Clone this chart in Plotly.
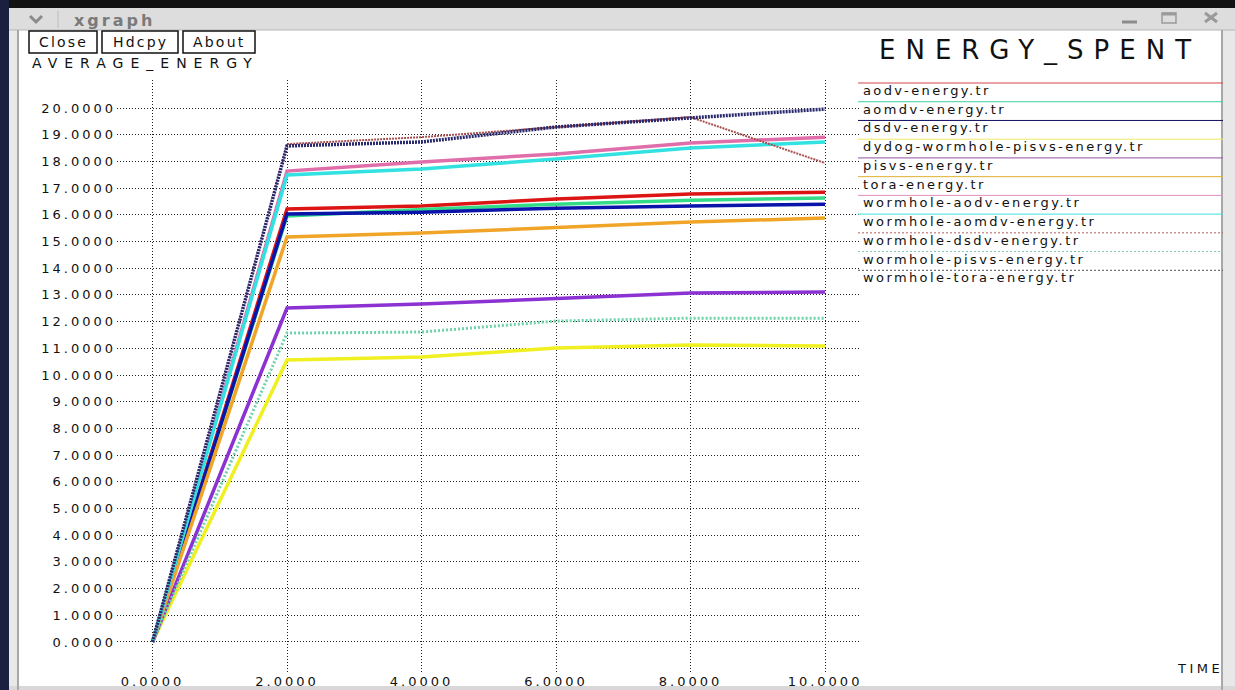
import plotly.graph_objects as go

# ---------------- data ----------------
times = [0, 2, 4, 6, 8, 10]

aodv = [0, 16.22, 16.33, 16.59, 16.78, 16.85]
aomdv = [0, 15.96, 16.20, 16.40, 16.55, 16.63]
dsdv = [0, 16.03, 16.10, 16.25, 16.33, 16.40]
dydog_wormhole_pisvs = [0, 10.56, 10.67, 11.01, 11.12, 11.09]
pisvs = [0, 12.51, 12.66, 12.88, 13.07, 13.11]
tora = [0, 15.17, 15.32, 15.51, 15.73, 15.88]
wormhole_aodv = [0, 17.64, 17.98, 18.28, 18.69, 18.91]
wormhole_aomdv = [0, 17.49, 17.72, 18.09, 18.50, 18.73]
wormhole_dsdv = [0, 18.65, 18.91, 19.29, 19.66, 17.94]
wormhole_pisvs = [0, 11.57, 11.61, 12.02, 12.13, 12.13]
wormhole_tora = [0, 18.58, 18.73, 19.29, 19.63, 19.96]

series_names = [
    "aodv-energy.tr", "aomdv-energy.tr", "dsdv-energy.tr",
    "dydog-wormhole-pisvs-energy.tr", "pisvs-energy.tr", "tora-energy.tr",
    "wormhole-aodv-energy.tr", "wormhole-aomdv-energy.tr",
    "wormhole-dsdv-energy.tr", "wormhole-pisvs-energy.tr",
    "wormhole-tora-energy.tr",
]
series_values = [
    aodv, aomdv, dsdv, dydog_wormhole_pisvs, pisvs, tora,
    wormhole_aodv, wormhole_aomdv, wormhole_dsdv, wormhole_pisvs, wormhole_tora,
]

x_tick_vals = [0, 2, 4, 6, 8, 10]
x_tick_text = ["0.0000", "2.0000", "4.0000", "6.0000", "8.0000", "10.0000"]
y_tick_vals = [0, 1, 2, 3, 4, 5, 6, 7, 8, 9, 10, 11, 12, 13, 14, 15, 16, 17, 18, 19, 20]
y_tick_text = ["0.0000", "1.0000", "2.0000", "3.0000", "4.0000", "5.0000", "6.0000",
               "7.0000", "8.0000", "9.0000", "10.0000", "11.0000", "12.0000",
               "13.0000", "14.0000", "15.0000", "16.0000", "17.0000", "18.0000",
               "19.0000", "20.0000"]

chart_title = "ENERGY_SPENT"
y_title = "AVERAGE_ENERGY"
x_title = "TIME"
window_title = "xgraph"
buttons = ["Close", "Hdcpy", "About"]

# ---------------- styles ----------------
colors = ["#dc1414", "#33dd88", "#0a14aa", "#f0f020", "#8c32d2", "#f0a528",
          "#e06eaa", "#32e1e1", "#a85050", "#6ed2aa", "#28286e"]
legend_colors = ["#d04848", "#40d0a0", "#101060", "#f0e860", "#9050a0", "#e0b030",
                 "#e090c0", "#40e0e0", "#b06060", "#80c8b0", "#505050"]
dashes = ["solid"] * 8 + ["2px,1px", "2px,2px", "2px,1px"]
widths = [3.5, 3.5, 3.5, 3.5, 3.5, 3.5, 3.5, 3.5, 2.0, 3.0, 3.5]

FONT = "DejaVu Sans"
W, H = 1235, 690
L, R, T, B = 117, 860, 80, 672
TICK_LS = 3.0


def X(p):
    return (p - L) / (R - L)


def Y(p):
    return (B - p) / (B - T)


def sp(text, ls):
    return f'<span style="letter-spacing:{ls}px">{text}</span>'


fig = go.Figure()
for name, vals, col, dash, w in zip(series_names, series_values, colors, dashes, widths):
    fig.add_trace(go.Scatter(
        x=times, y=vals, mode="lines", name=name, showlegend=False,
        line=dict(color=col, width=w, dash=dash), hoverinfo="skip",
    ))

shapes = []


def rect(x0, x1, y0, y1, fill, line=None, lw=0, layer="below"):
    shapes.append(dict(type="rect", xref="paper", yref="paper",
                       x0=X(x0), x1=X(x1), y0=Y(y0), y1=Y(y1),
                       fillcolor=fill, line=dict(color=line or fill, width=lw),
                       layer=layer))


def seg(x0, y0, x1, y1, color, width=1, dash="solid", layer="above"):
    shapes.append(dict(type="line", xref="paper", yref="paper",
                       x0=X(x0), x1=X(x1), y0=Y(y0), y1=Y(y1),
                       line=dict(color=color, width=width, dash=dash), layer=layer))


# window frame
rect(0, W, 0, 8, "#121212")
rect(0, W, 8, 30, "#dddddd")
seg(9, 30, W, 30, "#b4b4b4", 1)
rect(0, 9, 0, H, "#1b2040")
rect(9, 17, 30, H, "#e8e8e8")
seg(18, 30, 18, H, "#a8a8a8", 2)
rect(1223, W, 30, H, "#e8e8e8")
seg(1222, 30, 1222, H, "#a8a8a8", 2)
rect(9, W, 686, H, "#d8d8d8")
seg(58, 11, 58, 28, "#bcbcbc", 1)
# chevron
shapes.append(dict(type="path", xref="paper", yref="paper",
                   path=f"M {X(30)} {Y(16)} L {X(36)} {Y(22)} L {X(42)} {Y(16)}",
                   line=dict(color="#8a8a8a", width=3)))
# window controls
seg(1122, 22, 1137, 22, "#8c8c8c", 3)
rect(1162, 1176, 13, 23, "rgba(0,0,0,0)", "#9a9a9a", 1.5, "above")
seg(1162, 14, 1176, 14, "#9a9a9a", 3)
seg(1205, 13, 1217, 22, "#9a9a9a", 3)
seg(1205, 22, 1217, 13, "#9a9a9a", 3)

# buttons
button_boxes = [(29, 97), (102, 178), (183, 255)]
for (a, b) in button_boxes:
    rect(a, b, 31, 53, "white", "#111111", 1.5, "above")

# hide gridlines at zero
shapes.append(dict(type="line", xref="paper", yref="y", x0=0, x1=1, y0=0, y1=0,
                   line=dict(color="white", width=3), layer="between"))
shapes.append(dict(type="line", xref="x", yref="paper", x0=0, x1=0, y0=0, y1=1,
                   line=dict(color="white", width=3), layer="between"))

annotations = []


def text(xp, yp, s, size, anchor="left", color="#111111", weight="normal", ls=2.0):
    annotations.append(dict(x=X(xp), y=Y(yp), xref="paper", yref="paper",
                            text=sp(s, ls), showarrow=False, xanchor=anchor,
                            yanchor="middle",
                            font=dict(family=FONT, size=size, color=color, weight=weight)))


text(72, 20, window_title, 16, color="#7a7a7a", weight="bold", ls=3)
for lab, (a, b) in zip(buttons, button_boxes):
    text((a + b) / 2, 42, lab, 14, anchor="center", ls=2.2)
text(30, 63, y_title, 14, ls=7)
text(877, 50, chart_title, 26, ls=10)
text(1225, 668, x_title, 13, anchor="right", ls=3.5)

# custom xgraph-style legend
for i, (name, col, dash) in enumerate(zip(series_names, legend_colors, dashes)):
    ly = 83 + i * 18.73
    seg(858, ly, 1223, ly, col, 1, "solid" if dash == "solid" else "2px,2px")
    text(861, ly + 7.5, name, 13, ls=2.4)

fig.update_layout(
    width=W, height=H, autosize=False,
    margin=dict(l=L, r=W - R, t=T, b=H - B, pad=0),
    paper_bgcolor="white", plot_bgcolor="white",
    font=dict(family=FONT, size=13, color="#111111"),
    shapes=shapes, annotations=annotations,
    showlegend=False,
    xaxis=dict(range=[-0.528, 10.52], tickvals=x_tick_vals,
               ticktext=[sp(t, TICK_LS) for t in x_tick_text],
               showgrid=True, gridcolor="#222222", gridwidth=1, griddash="1px,2px",
               zeroline=False, showline=False, ticks="", automargin=False,
               tickfont=dict(family=FONT, size=13, color="#111111")),
    yaxis=dict(range=[-1.124, 21.05], tickvals=y_tick_vals,
               ticktext=[sp(t, TICK_LS) for t in y_tick_text],
               showgrid=True, gridcolor="#222222", gridwidth=1, griddash="1px,2px",
               zeroline=False, showline=False, ticks="", automargin=False,
               tickfont=dict(family=FONT, size=13, color="#111111")),
)

fig.write_html("out.html", config={"displayModeBar": False},
               post_script="document.body.style.margin='0';")
